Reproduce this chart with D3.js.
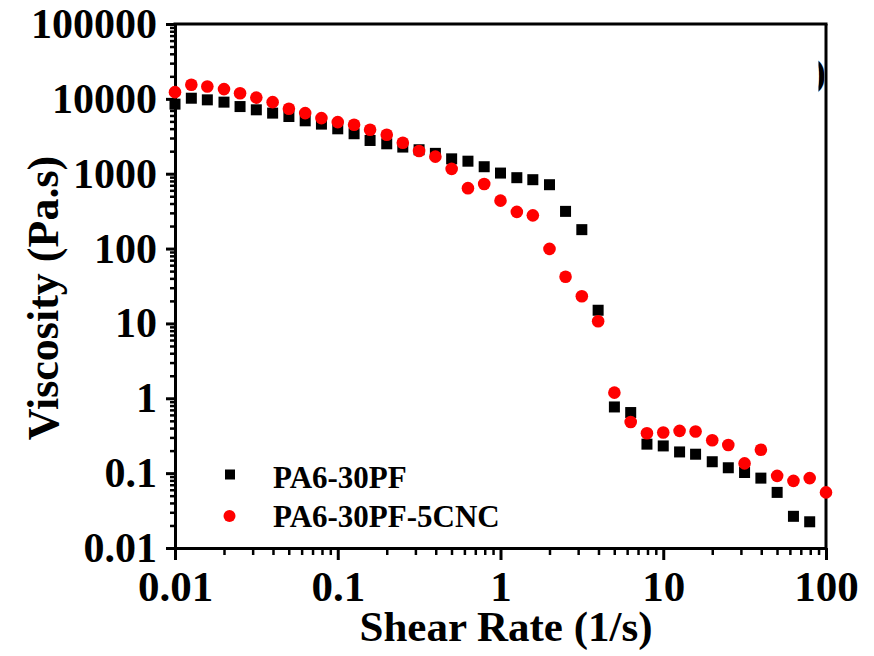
<!DOCTYPE html>
<html lang="en">
<head>
<meta charset="utf-8">
<title>Viscosity vs shear rate</title>
<script src="https://d3js.org/d3.v7.min.js"></script>
<style>
  body { margin: 0; background: #fff; }
  text { font-family: "Liberation Serif", "Times New Roman", serif; font-weight: bold; fill: #000; }
  .axis path, .axis line { stroke: #000; }
</style>
</head>
<body>
<script>
// shear rate (1/s), 10 points per decade
var shearRate = [0.01, 0.0126, 0.0158, 0.02, 0.0251, 0.0316, 0.0398, 0.0501, 0.0631, 0.0794,
                 0.1, 0.126, 0.158, 0.2, 0.251, 0.316, 0.398, 0.501, 0.631, 0.794,
                 1, 1.26, 1.58, 2, 2.51, 3.16, 3.98, 5.01, 6.31, 7.94,
                 10, 12.6, 15.8, 20, 25.1, 31.6, 39.8, 50.1, 63.1, 79.4, 100];

var pa6 = [8500, 10200, 9700, 9040, 7890, 7140, 6450, 5810, 5090, 4600,
           3980, 3420, 2780, 2510, 2270, 2090, 1870, 1580, 1470, 1240,
           1020, 885, 832, 713, 314, 179, 15.0, 0.766, 0.645, 0.244,
           0.231, 0.192, 0.179, 0.142, 0.118, 0.102, 0.0858, 0.0553, 0.0265, 0.0224, null];

var pa6cnc = [12300, 15400, 14600, 13500, 11900, 10400, 9040, 7360, 6450, 5530,
              4890, 4500, 3860, 3310, 2590, 2010, 1690, 1160, 641, 729,
              437, 309, 278, 99, 42, 23.1, 10.7, 1.19, 0.483, 0.341,
              0.349, 0.367, 0.360, 0.275, 0.238, 0.135, 0.205, 0.092, 0.0789, 0.0858, 0.0553];

var xTicks = [0.01, 0.1, 1, 10, 100];
var xTickLabels = ["0.01", "0.1", "1", "10", "100"];
var yTicks = [0.01, 0.1, 1, 10, 100, 1000, 10000, 100000];
var yTickLabels = ["0.01", "0.1", "1", "10", "100", "1000", "10000", "100000"];
var seriesNames = ["PA6-30PF", "PA6-30PF-5CNC"];

var width = 874, height = 656;
var mL = 175, mR = 826, mT = 24, mB = 548;

var svg = d3.select("body").append("svg")
  .attr("width", width)
  .attr("height", height);

var x = d3.scaleLog().domain([0.01, 100]).range([mL, mR]);
var y = d3.scaleLog().domain([0.01, 100000]).range([mB, mT]);

// minor ticks 2..9 of every decade
function minors(scale) {
  var d = scale.domain(), out = [];
  for (var e = Math.round(Math.log10(d[0])); e < Math.round(Math.log10(d[1])); e++) {
    for (var m = 2; m <= 9; m++) out.push(m * Math.pow(10, e));
  }
  return out;
}

// x axis
svg.append("g").attr("class", "axis")
  .attr("transform", "translate(0," + mB + ")")
  .call(d3.axisBottom(x).tickValues(minors(x)).tickSize(7).tickFormat(""))
  .call(function(g) { g.select(".domain").remove(); g.selectAll("line").attr("stroke-width", 2.5); });

svg.append("g").attr("class", "axis")
  .attr("transform", "translate(0," + mB + ")")
  .call(d3.axisBottom(x).tickValues(xTicks).tickSize(12).tickSizeOuter(0).tickPadding(10)
    .tickFormat(function(d, i) { return xTickLabels[i]; }))
  .call(function(g) {
    g.select(".domain").attr("stroke-width", 3);
    g.selectAll("line").attr("stroke-width", 3);
    g.selectAll("text").attr("font-size", 43);
  });

// y axis
svg.append("g").attr("class", "axis")
  .attr("transform", "translate(" + mL + ",0)")
  .call(d3.axisLeft(y).tickValues(minors(y)).tickSize(5).tickFormat(""))
  .call(function(g) { g.select(".domain").remove(); g.selectAll("line").attr("stroke-width", 2.5); });

svg.append("g").attr("class", "axis")
  .attr("transform", "translate(" + mL + ",0)")
  .call(d3.axisLeft(y).tickValues(yTicks).tickSize(9).tickSizeOuter(0).tickPadding(9)
    .tickFormat(function(d, i) { return yTickLabels[i]; }))
  .call(function(g) {
    g.select(".domain").attr("stroke-width", 3);
    g.selectAll("line").attr("stroke-width", 3);
    g.selectAll("text").attr("font-size", 42);
  });

// top and right frame
svg.append("line").attr("x1", mL - 1.5).attr("x2", mR + 1.5).attr("y1", mT).attr("y2", mT)
  .attr("stroke", "#000").attr("stroke-width", 3);
svg.append("line").attr("x1", mR).attr("x2", mR).attr("y1", mT).attr("y2", mB)
  .attr("stroke", "#000").attr("stroke-width", 3);

// axis titles
svg.append("text")
  .attr("x", 506).attr("y", 641)
  .attr("text-anchor", "middle").attr("font-size", 43)
  .text("Shear Rate (1/s)");

svg.append("text")
  .attr("transform", "translate(58,298) rotate(-90)")
  .attr("text-anchor", "middle").attr("font-size", 44)
  .text("Viscosity (Pa.s)");

// points
var sq = 11;
svg.append("g").selectAll("rect")
  .data(shearRate.map(function(d, i) { return [d, pa6[i]]; }).filter(function(d) { return d[1] != null; }))
  .enter().append("rect")
  .attr("x", function(d) { return x(d[0]) - sq / 2; })
  .attr("y", function(d) { return y(d[1]) - sq / 2; })
  .attr("width", sq).attr("height", sq)
  .attr("fill", "#000");

svg.append("g").selectAll("circle")
  .data(shearRate.map(function(d, i) { return [d, pa6cnc[i]]; }).filter(function(d) { return d[1] != null; }))
  .enter().append("circle")
  .attr("cx", function(d) { return x(d[0]); })
  .attr("cy", function(d) { return y(d[1]); })
  .attr("r", 6.3)
  .attr("fill", "#ff0000");

// legend
var lg = svg.append("g");
lg.append("rect").attr("x", 225).attr("y", 469.5).attr("width", 10).attr("height", 10).attr("fill", "#000");
lg.append("circle").attr("cx", 229.5).attr("cy", 516).attr("r", 6).attr("fill", "#ff0000");
lg.selectAll("text").data(seriesNames).enter().append("text")
  .attr("x", 273)
  .attr("y", function(d, i) { return 488 + i * 39; })
  .attr("font-size", 31)
  .text(function(d) { return d; });

// leftover of a cropped panel label
svg.append("clipPath").attr("id", "cut")
  .append("rect").attr("x", 818.5).attr("y", 40).attr("width", 6).attr("height", 70);
svg.append("text")
  .attr("clip-path", "url(#cut)")
  .attr("x", 826).attr("y", 86)
  .attr("text-anchor", "end").attr("font-size", 40)
  .text(")");
</script>
</body>
</html>
